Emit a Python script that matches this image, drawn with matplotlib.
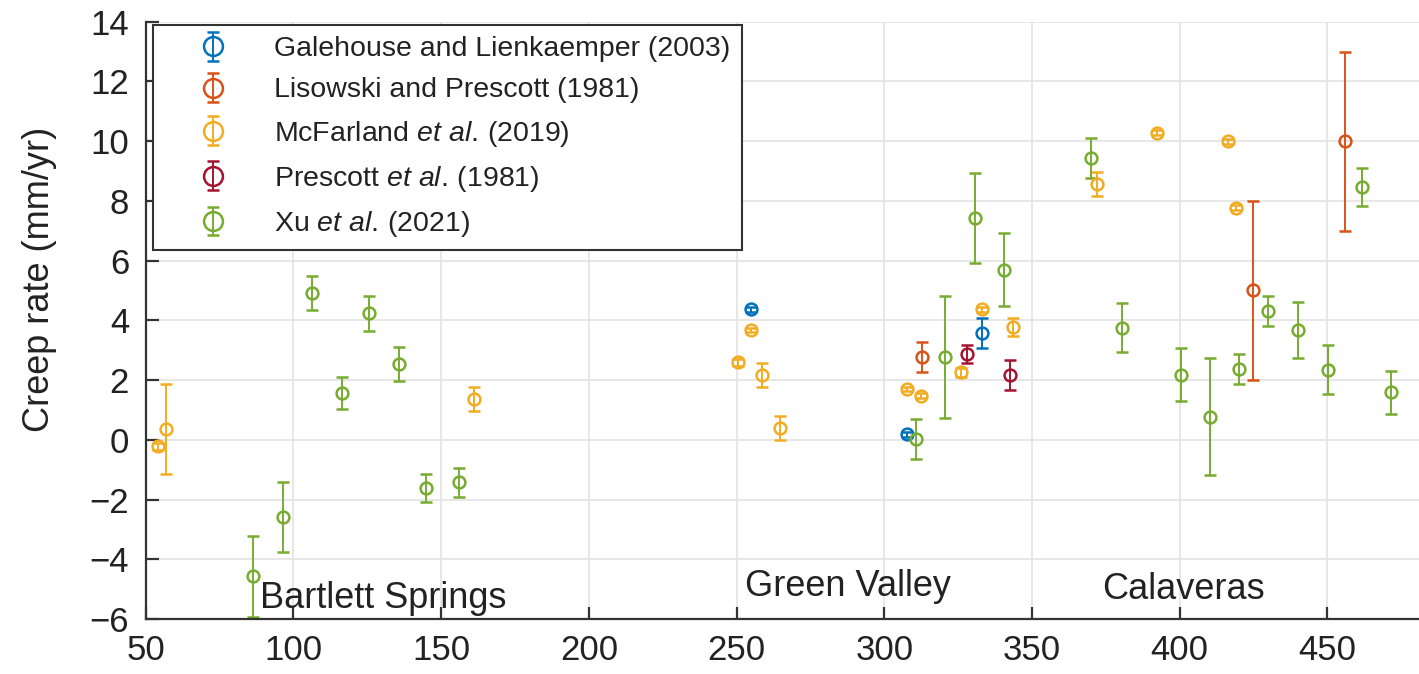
import matplotlib
matplotlib.use("Agg")
import matplotlib.pyplot as plt

plt.rcParams['font.family'] = ['Liberation Sans', 'DejaVu Sans']
plt.rcParams['mathtext.fontset'] = 'custom'
plt.rcParams['mathtext.rm'] = 'Liberation Sans'
plt.rcParams['mathtext.it'] = 'Liberation Sans:italic'

# Galehouse and Lienkaemper (2003)
gal_x = [254.8, 307.7, 333.2]
gal_y = [4.37, 0.19, 3.59]
gal_e = [0.08, 0.08, 0.5]

# Lisowski and Prescott (1981)
lis_x = [312.7, 424.7, 456.0]
lis_y = [2.78, 5.0, 10.0]
lis_e = [0.51, 3.0, 3.0]

# McFarland et al. (2019)
mcf_x = [54.1, 56.7, 161.2, 250.6, 254.8, 258.6, 264.7, 307.7, 312.4, 325.9,
         333.2, 343.5, 372.0, 392.3, 416.5, 419.1]
mcf_y = [-0.22, 0.37, 1.38, 2.59, 3.68, 2.17, 0.39, 1.7, 1.48, 2.26,
         4.37, 3.78, 8.57, 10.28, 9.99, 7.77]
mcf_e = [0.12, 1.51, 0.4, 0.12, 0.08, 0.4, 0.4, 0.08, 0.08, 0.15,
         0.08, 0.3, 0.4, 0.08, 0.08, 0.08]

# Prescott et al. (1981)
pre_x = [327.9, 342.6]
pre_y = [2.87, 2.18]
pre_e = [0.31, 0.5]

# Xu et al. (2021)
xu_x = [86.2, 96.6, 106.2, 116.6, 125.7, 135.7, 144.9, 156.1, 310.8, 320.6, 330.7,
        340.5, 370.1, 380.3, 400.4, 410.3, 420.2, 429.9, 440.1, 450.2, 461.8, 471.6]
xu_y = [-4.57, -2.57, 4.92, 1.56, 4.23, 2.54, -1.61, -1.42, 0.02, 2.78, 7.43,
        5.7, 9.45, 3.76, 2.18, 0.78, 2.37, 4.30, 3.67, 2.35, 8.46, 1.59]
xu_e = [1.36, 1.17, 0.57, 0.54, 0.6, 0.57, 0.47, 0.48, 0.67, 2.04, 1.5,
        1.22, 0.67, 0.83, 0.88, 1.96, 0.5, 0.5, 0.93, 0.83, 0.64, 0.73]

series = [
    (gal_x, gal_y, gal_e, '#0072BD', 'Galehouse and Lienkaemper (2003)'),
    (lis_x, lis_y, lis_e, '#D95319', 'Lisowski and Prescott (1981)'),
    (mcf_x, mcf_y, mcf_e, '#F2AC22', r'McFarland $\mathit{et\ al.}\,$(2019)'),
    (pre_x, pre_y, pre_e, '#A2142F', r'Prescott $\mathit{et\ al.}\,$(1981)'),
    (xu_x, xu_y, xu_e, '#77AC30', r'Xu $\mathit{et\ al.}\,$(2021)'),
]

regions = ['Bartlett Springs', 'Green Valley', 'Calaveras']
region_x = [88.7, 252.7, 373.9]
region_y = [-5.3, -4.9, -5.0]

fig = plt.figure(figsize=(14.19, 6.74), dpi=100)
ax = fig.add_axes([0.1027, 0.0816, 0.8973, 0.8862])

for x, y, e, c, lab in series:
    ax.errorbar(x, y, yerr=e, fmt='o', color=c, mfc='none', ms=8.5, mew=1.8,
                elinewidth=1.4, capsize=4.5, capthick=1.4, label=lab)

for t, x, y in zip(regions, region_x, region_y):
    ax.text(x, y, t, fontsize=26, color='#222222', va='center', ha='left')

ax.set_xlim(50, 481)
ax.set_ylim(-6, 14)
ax.set_xticks(range(50, 451, 50))
ax.set_yticks(range(-6, 15, 2))
ax.grid(True, color='#e3e3e3', lw=1.2)
ax.set_axisbelow(True)
for s in ['top', 'right']:
    ax.spines[s].set_visible(False)
for s in ['left', 'bottom']:
    ax.spines[s].set_color('#333333')
    ax.spines[s].set_linewidth(1.6)
ax.tick_params(direction='in', length=9, width=1.6, color='#333333',
               labelsize=25, labelcolor='#222222')
ax.tick_params(axis='y', pad=12)
ax.tick_params(axis='x', pad=11)

ax.set_ylabel('Creep rate (mm/yr)', fontsize=26, color='#222222')
ax.yaxis.set_label_coords(-0.07, 0.568)

leg = ax.legend(loc='upper left', bbox_to_anchor=(0.0057, 0.9945), borderaxespad=0,
                fontsize=20.5, frameon=True, fancybox=False, framealpha=1,
                edgecolor='#333333', borderpad=0.4, handlelength=3.45,
                handletextpad=0.4, labelspacing=0.53, markerscale=1.6)
leg.get_frame().set_linewidth(1.5)
for t in leg.get_texts():
    t.set_color('#222222')

fig.savefig('out.png', dpi=100)
